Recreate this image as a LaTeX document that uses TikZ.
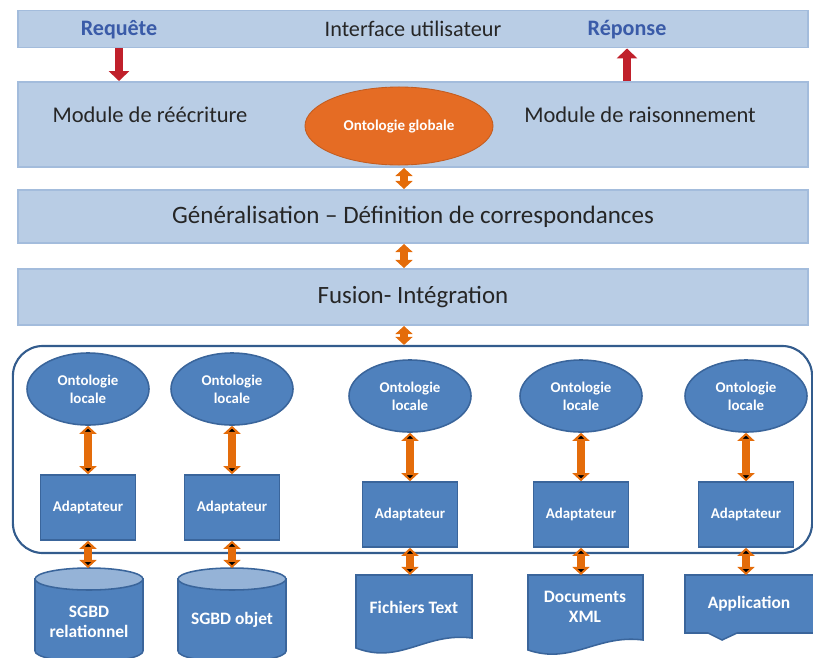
\documentclass[tikz,border=0pt]{standalone}
\usepackage{fontspec}
\setmainfont{Carlito}
\usepackage{tikz}
\usetikzlibrary{arrows.meta,shapes.geometric}

\definecolor{barfill}{HTML}{B9CDE5}
\definecolor{barline}{HTML}{A3BCDC}
\definecolor{boxblue}{HTML}{4F81BD}
\definecolor{boxline}{HTML}{3A659B}
\definecolor{toplight}{HTML}{95B3D7}
\definecolor{arrorange}{HTML}{E46C0A}
\definecolor{ellorange}{HTML}{E56C24}
\definecolor{arrred}{HTML}{C0202B}
\definecolor{txtblue}{HTML}{3A5BA8}
\definecolor{txtdark}{HTML}{262626}
\definecolor{frameline}{HTML}{335C8D}

\begin{document}
\begin{tikzpicture}[x=0.025cm,y=-0.025cm,
  bar/.style={rectangle, draw=barline, fill=barfill, line width=1.4pt, minimum width=19.75cm, text=txtdark},
  ontolocal/.style={ellipse, draw=boxline, fill=boxblue, line width=1.1pt, minimum width=3.05cm, minimum height=1.8cm, inner sep=0pt, align=center, text=white, font=\fontsize{10.6}{12.8}\selectfont\bfseries},
  adapt/.style={rectangle, draw=boxline, fill=boxblue, line width=1.1pt, minimum width=2.375cm, minimum height=1.625cm, text=white, font=\fontsize{10.6}{12.8}\selectfont\bfseries},
  srcshape/.style={draw=boxline, fill=boxblue, line width=1.1pt},
  srctext/.style={align=center, text=white, font=\fontsize{12.4}{14.2}\selectfont\bfseries}]
    \useasboundingbox (0,0) rectangle (813,657);
    \clip (0,0) rectangle (813,657);

    % bandeaux du haut
    \node[bar, minimum height=0.925cm, font=\fontsize{15.8}{19}\selectfont] (ui) at (413,29) {Interface utilisateur};
    \node[text=txtblue, font=\fontsize{15.7}{19}\selectfont\bfseries] (req) at (119,30) {Requête};
    \node[text=txtblue, font=\fontsize{15.7}{19}\selectfont\bfseries] (rep) at (627,30) {Réponse};
    \node[bar, minimum height=2.125cm] (mod) at (413,124.5) {};
    \node[text=txtdark, font=\fontsize{16}{19}\selectfont] (reecr) at (150,115) {Module de réécriture};
    \node[text=txtdark, font=\fontsize{16}{19}\selectfont] (rais) at (640,115) {Module de raisonnement};
    \node[ellipse, fill=ellorange, draw=ellorange!85!black, line width=0.6pt, minimum width=4.7cm, minimum height=1.95cm, inner sep=0pt, text=white, font=\fontsize{10.7}{13}\selectfont\bfseries] (og) at (399,126) {Ontologie globale};
    \node[bar, minimum height=1.325cm, font=\fontsize{17.8}{21}\selectfont] (gen) at (413,216.5) {Généralisation – Définition de correspondances};
    \node[bar, minimum height=1.4cm, font=\fontsize{17.7}{21}\selectfont] (fus) at (413,297) {Fusion- Intégration};
    \coordinate (axe) at (404,0);

    % cadre des sources locales
    \node[rectangle, rounded corners=0.75cm, draw=frameline, line width=1.5pt, minimum width=19.975cm, minimum height=5.175cm] (loc) at (412.5,449.5) {};

    \node[ontolocal] (ol1) at (88,389) {Ontologie\\locale};
    \node[ontolocal] (ol2) at (232,389) {Ontologie\\locale};
    \node[ontolocal] (ol3) at (410,396) {Ontologie\\locale};
    \node[ontolocal] (ol4) at (581,396) {Ontologie\\locale};
    \node[ontolocal] (ol5) at (746,396) {Ontologie\\locale};

    \node[adapt] (ad1) at (88,507.5) {Adaptateur};
    \node[adapt] (ad2) at (232,507.5) {Adaptateur};
    \node[adapt] (ad3) at (410,514.5) {Adaptateur};
    \node[adapt] (ad4) at (581,514.5) {Adaptateur};
    \node[adapt] (ad5) at (746,514.5) {Adaptateur};

    % sources
    \filldraw[srcshape] (143,579) -- (143,651) arc[start angle=0, end angle=180, x radius=54, y radius=11] -- (35,579) -- cycle;
    \filldraw[srcshape, fill=toplight] (89,579) ellipse[x radius=54, y radius=11];
    \filldraw[srcshape] (286,579) -- (286,651) arc[start angle=0, end angle=180, x radius=54, y radius=11] -- (178,579) -- cycle;
    \filldraw[srcshape, fill=toplight] (232,579) ellipse[x radius=54, y radius=11];
    \filldraw[srcshape] (356,575) -- (472,575) -- (472,638) .. controls (425,632) and (400,665) .. (356,648) -- cycle;
    \filldraw[srcshape] (528,575) -- (643,575) -- (643,640) .. controls (597,634) and (572,665) .. (528,650) -- cycle;
    \filldraw[srcshape] (685,575) -- (822,575) -- (822,633) -- (737,633) -- (722,640) -- (708,633) -- (685,633) -- cycle;

    \coordinate (db1) at (88,568);
    \coordinate (db2) at (232,568);
    \coordinate (doc3) at (410,575);
    \coordinate (doc4) at (581,575);
    \coordinate (app5) at (746,575);

    \node[srctext] (sgbdrel) at (89,622) {SGBD\\relationnel};
    \node[srctext] (sgbdobj) at (232,620) {SGBD objet};
    \node[srctext] (fich) at (414,607) {Fichiers Text};
    \node[srctext] (docxml) at (585,607) {Documents\\XML};
    \node[srctext] (appli) at (749,604) {Application};

    \tikzset{biarrow/.style={{Triangle[width=12pt,length=5.7pt]}-{Triangle[width=12pt,length=5.7pt]}, draw=arrorange, line width=6pt}}
    \tikzset{redarrow/.style={-{Triangle[width=14.2pt,length=7pt]}, draw=arrred, line width=6pt}}

    \draw[redarrow] (ui.south -| req) -- (mod.north -| req);
    \draw[redarrow] (mod.north -| rep) -- (ui.south -| rep);

    \draw[biarrow] (mod.south -| axe) -- (gen.north -| axe);
    \draw[biarrow] (gen.south -| axe) -- (fus.north -| axe);
    \draw[biarrow] (fus.south -| axe) -- (loc.north -| axe);

    \draw[biarrow] (ol1) edge (ad1) (ad1) edge (db1);
    \draw[biarrow] (ol2) edge (ad2) (ad2) edge (db2);
    \draw[biarrow] (ol3) edge (ad3) (ad3) edge (doc3);
    \draw[biarrow] (ol4) edge (ad4) (ad4) edge (doc4);
    \draw[biarrow] (ol5) edge (ad5) (ad5) edge (app5);

\end{tikzpicture}
\end{document}
